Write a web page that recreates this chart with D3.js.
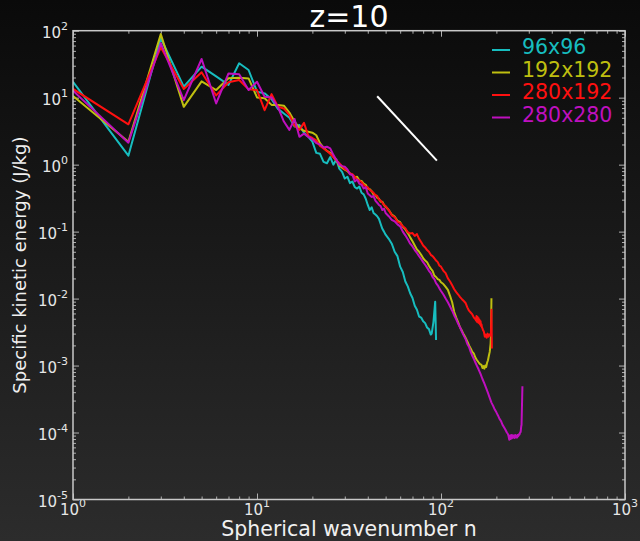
<!DOCTYPE html>
<html>
<head>
<meta charset="utf-8">
<script src="https://cdn.jsdelivr.net/npm/d3@7"></script>
<style>
  body { margin: 0; background: #000; }
  svg { display: block; font-family: "DejaVu Sans", sans-serif; }
</style>
</head>
<body>
<div id="chart"></div>
<script>
// Spectra: wavenumber n and energy (J/kg) for each run
const cyanN = [1,2,3,4,5,6,7,8,9,10,11,12,13,14,15,16,17,18,19,20,21,22,23,24,25,26,27,28,29,30,
  31,32,33,34,35,36,37,38,39,40,41,42,43,44,45,46,47,48,49,50,
  52,54,56,58,60,62,64,66,68,70,72,74,76,78,80,82,84,86,88,89,91,93,94];
const cyanE = [17.3,1.36,77,14.6,29,20.8,15.5,32.6,25.9,12.3,11.6,9.5,6.8,5.8,5.0,3.7,3.9,3.0,2.6,2.2,
  1.5,1.45,1.1,1.05,1.3,1.0,1.2,0.87,0.78,0.62,0.66,0.53,0.56,0.46,0.44,0.47,0.38,0.36,0.31,0.25,
  0.21,0.23,0.19,0.18,0.17,0.155,0.13,0.11,0.10,0.09,
  0.078,0.066,0.05,0.043,0.03,0.025,0.018,0.0152,0.012,0.0102,0.0078,0.0068,0.0054,0.0052,0.0046,0.0043,0.0037,0.0035,0.0029,
  0.003,0.0045,0.009,0.0024];

const yellowN = [1,2,3,4,5,6,7,8,9,10,11,12,13,14,15,16,17,18,19,20,21,22,23,24,25,26,27,28,29,30,
  31,32,33,34,35,36,37,38,39,40,41,42,43,44,45,46,47,48,49,50,
  52,54,56,58,60,62,64,66,68,70,72,74,76,78,80,82,84,86,88,90,92,94,96,98,100,
  103,106,109,112,115,118,121,124,127,130,133,136,139,142,145,148,151,154,157,160,163,166,
  168,170,172,174,176,178,180,182,184,186,187,188];
const yellowE = [10.6,2.2,89,7.3,17.5,13,19.5,19.9,19.4,10.1,9.8,7.8,7.8,7.6,6.0,4.4,3.5,3.2,3.1,3.0,
  2.75,2.1,1.8,1.6,1.5,1.3,1.15,0.97,0.9,
  0.84,0.8,0.74,0.7,0.64,0.66,0.58,0.57,0.52,0.5,0.44,0.43,0.4,0.36,0.35,0.32,0.31,0.28,0.28,0.25,0.235,
  0.21,0.18,0.168,0.145,0.138,0.118,0.108,0.095,0.082,0.072,0.062,0.054,0.05,0.045,0.04,0.037,0.035,0.031,0.028,0.026,
  0.022,0.021,0.0195,0.019,0.0175,
  0.0165,0.015,0.0135,0.011,0.0088,0.0063,0.0052,0.0044,0.0037,0.0033,0.0029,0.0026,0.0023,0.002,0.0018,0.0016,
  0.0015,0.0013,0.0012,0.00112,0.00105,0.00102,
  0.00092,0.00098,0.0009,0.001,0.00095,0.0011,0.0012,0.0014,0.0016,0.0021,0.003,0.0101];

const redN = [1,2,3,4,5,6,7,8,9,10,11,12,13,14,15,16,17,18,19,20,21,22,23,24,25,26,27,28,29,30,
  31,32,33,34,35,36,37,38,39,40,41,42,43,44,45,46,47,48,49,50,
  52,54,56,58,60,62,64,66,68,70,72,74,76,78,80,82,84,86,88,90,92,94,96,98,100,
  103,106,109,112,115,118,121,124,127,130,133,136,139,142,145,148,151,154,
  155,156,157,158,159,160,161,162,163,164,165,166,167,168,169,170,
  171,173,175,177,179,181,183,185,187,188,189];
const redE = [13.5,4.0,56.5,13.5,24,10.8,17,18.4,13.3,13,6.5,11.3,7.3,6.9,5.5,3.8,3.3,4.2,2.7,2.5,
  2.3,1.9,1.75,1.6,1.45,1.3,1.17,1.05,0.95,
  0.85,0.82,0.74,0.72,0.66,0.6,0.58,0.55,0.5,0.47,0.46,0.42,0.4,0.38,0.35,0.34,0.3,0.29,0.27,0.25,0.24,
  0.21,0.175,0.165,0.14,0.135,0.12,0.112,0.098,0.094,0.095,0.086,0.092,0.078,0.07,0.062,0.058,0.053,0.05,0.045,0.043,
  0.04,0.037,0.035,0.031,0.03,
  0.026,0.024,0.02,0.018,0.0158,0.0138,0.0125,0.0115,0.0105,0.0098,0.0092,0.0086,0.0074,0.0066,0.0062,0.0058,0.0052,0.0049,
  0.0047,0.0055,0.0045,0.0053,0.0044,0.0051,0.0043,0.0048,0.0041,0.0046,0.0039,0.0041,0.0037,0.0036,0.0034,0.0033,
  0.0032,0.0027,0.0029,0.0026,0.003,0.0027,0.0029,0.0028,0.0031,0.0068,0.0018];

const magentaN = [1,2,3,4,5,6,7,8,9,10,11,12,13,14,15,16,17,18,19,20,21,22,23,24,25,26,27,28,29,30,
  31,32,33,34,35,36,37,38,39,40,41,42,43,44,45,46,47,48,49,50,
  52,54,56,58,60,62,64,66,68,70,72,74,76,78,80,82,84,86,88,90,92,94,96,98,100,
  103,106,109,112,115,118,121,124,127,130,133,136,139,142,145,148,151,154,157,160,
  164,168,172,176,180,184,188,192,196,200,204,208,212,216,220,224,228,
  231,233,235,237,239,241,243,245,247,249,251,253,255,257,259,261,263,265,267,269,271,273,274,277];
const magentaE = [12.7,2.13,65,9.2,37.8,8.2,23,22.4,13,17.3,10.3,10.1,7.2,4.4,3.3,4.8,2.6,2.9,2.6,2.4,
  2.1,2.0,1.8,1.85,1.75,1.4,1.17,1.0,0.95,0.93,
  0.85,0.72,0.7,0.56,0.6,0.52,0.5,0.44,0.46,0.37,0.35,0.33,0.34,0.29,0.27,0.25,0.24,0.21,0.22,0.19,
  0.17,0.15,0.142,0.128,0.12,0.1,0.088,0.077,0.066,0.06,0.053,0.048,0.043,0.039,0.035,0.032,0.029,0.026,0.024,0.021,
  0.0195,0.017,0.0158,0.0142,0.013,
  0.0115,0.01,0.0088,0.0076,0.0066,0.0056,0.0049,0.0042,0.0037,0.0032,0.0028,0.0025,0.0021,0.0019,0.0016,0.0014,
  0.00125,0.0011,0.00098,0.00088,
  0.00075,0.00063,0.00054,0.00046,0.00039,0.00033,0.00028,0.00025,0.00022,0.0002,0.00018,0.00016,0.000148,0.00013,
  0.00012,0.00011,0.0001,
  0.000095,0.000088,0.000078,0.00009,0.00008,0.000092,0.000082,0.000091,0.000084,0.00009,0.000083,0.000092,0.000085,
  0.00009,0.000084,0.000092,0.000088,0.000094,0.000093,0.0001,0.000102,0.000125,0.00013,0.00049];

const seriesNames = ["96x96", "192x192", "280x192", "280x280"];
const seriesColors = ["#17bdbf", "#bfbf10", "#ff1010", "#bf10bf"];

// n^-3 reference slope
const slopeN = [45, 95];
const slopeE = [10.5, 1.15];

const xMajor = [1, 10, 100, 1000];
const yMajor = [1e-5, 1e-4, 1e-3, 1e-2, 1e-1, 1, 10, 100];

// Layout
const width = 640, height = 541;
const plotLeft = 73, plotRight = 625, plotTop = 30.7, plotBottom = 499.5;

const svg = d3.select("#chart")
  .append("svg")
  .attr("width", width)
  .attr("height", height);

const defs = svg.append("defs");
const grad = defs.append("linearGradient")
  .attr("id", "bg")
  .attr("x1", 0).attr("y1", 0).attr("x2", 0).attr("y2", 1);
grad.append("stop").attr("offset", 0).attr("stop-color", "#0a0a0a");
grad.append("stop").attr("offset", 1).attr("stop-color", "#2c2c2c");

svg.append("rect")
  .attr("width", width)
  .attr("height", height)
  .attr("fill", "url(#bg)");

const x = d3.scaleLog().domain([1, 1000]).range([plotLeft, plotRight]);
const y = d3.scaleLog().domain([1e-5, 100]).range([plotBottom, plotTop]);

const isMajor = v => Math.abs(Math.log10(v) - Math.round(Math.log10(v))) < 1e-9;
const xMinor = x.ticks().filter(v => !isMajor(v));
const yMinor = y.ticks().filter(v => !isMajor(v));

// Inward ticks on all four sides
function ticks(axis, values, size, transform) {
  svg.append("g")
    .attr("transform", transform)
    .call(axis.tickValues(values).tickSizeInner(-size).tickSizeOuter(0).tickFormat(""))
    .call(g => g.select(".domain").remove())
    .call(g => g.selectAll("line").attr("stroke", "#b0b0b0").attr("stroke-width", 1));
}
ticks(d3.axisBottom(x), xMajor, 6, `translate(0,${plotBottom})`);
ticks(d3.axisBottom(x), xMinor, 3, `translate(0,${plotBottom})`);
ticks(d3.axisTop(x), xMajor, 6, `translate(0,${plotTop})`);
ticks(d3.axisTop(x), xMinor, 3, `translate(0,${plotTop})`);
ticks(d3.axisLeft(y), yMajor, 6, `translate(${plotLeft},0)`);
ticks(d3.axisLeft(y), yMinor, 3, `translate(${plotLeft},0)`);
ticks(d3.axisRight(y), yMajor, 6, `translate(${plotRight},0)`);
ticks(d3.axisRight(y), yMinor, 3, `translate(${plotRight},0)`);

function powText(sel) {
  sel.append("tspan").text("10");
  sel.append("tspan")
    .attr("dy", -8)
    .attr("font-size", 11)
    .text(d => Math.round(Math.log10(d)));
}

svg.append("g").selectAll("text")
  .data(xMajor)
  .join("text")
  .attr("x", d => x(d))
  .attr("y", plotBottom + 15)
  .attr("text-anchor", "middle")
  .attr("fill", "#e6e6e6")
  .attr("font-size", 15)
  .call(powText);

svg.append("g").selectAll("text")
  .data(yMajor)
  .join("text")
  .attr("x", plotLeft - 5)
  .attr("y", d => y(d) + 7)
  .attr("text-anchor", "end")
  .attr("fill", "#e6e6e6")
  .attr("font-size", 15)
  .call(powText);

// Spectra
const series = [
  { n: cyanN, e: cyanE },
  { n: yellowN, e: yellowE },
  { n: redN, e: redE },
  { n: magentaN, e: magentaE }
];

const line = d3.line()
  .x(d => x(d[0]))
  .y(d => y(d[1]));

defs.append("clipPath")
  .attr("id", "plot")
  .append("rect")
  .attr("x", plotLeft).attr("y", plotTop)
  .attr("width", plotRight - plotLeft).attr("height", plotBottom - plotTop);

const plot = svg.append("g").attr("clip-path", "url(#plot)");

plot.selectAll("path.spec")
  .data(series)
  .join("path")
  .attr("class", "spec")
  .attr("d", s => line(d3.zip(s.n, s.e)))
  .attr("fill", "none")
  .attr("stroke", (s, i) => seriesColors[i])
  .attr("stroke-width", 2)
  .attr("stroke-linejoin", "round");

plot.append("path")
  .attr("d", line(d3.zip(slopeN, slopeE)))
  .attr("stroke", "#ffffff")
  .attr("stroke-width", 2);

// Frame
svg.append("rect")
  .attr("x", plotLeft).attr("y", plotTop)
  .attr("width", plotRight - plotLeft).attr("height", plotBottom - plotTop)
  .attr("fill", "none")
  .attr("stroke", "#c8c8c8")
  .attr("stroke-width", 1.5);

// Legend
const legend = svg.append("g").selectAll("g")
  .data(seriesNames)
  .join("g")
  .attr("transform", (d, i) => `translate(492,${54 + i * 22.5})`);

legend.append("line")
  .attr("x1", 0).attr("x2", 18)
  .attr("y1", -4).attr("y2", -4)
  .attr("stroke", (d, i) => seriesColors[i])
  .attr("stroke-width", 2);

legend.append("text")
  .attr("x", 30)
  .attr("fill", (d, i) => seriesColors[i])
  .attr("font-size", 20.5)
  .text(d => d);

// Titles
svg.append("text")
  .attr("x", (plotLeft + plotRight) / 2)
  .attr("y", 27)
  .attr("text-anchor", "middle")
  .attr("fill", "#ffffff")
  .attr("font-size", 30)
  .text("z=10");

svg.append("text")
  .attr("x", (plotLeft + plotRight) / 2)
  .attr("y", 536)
  .attr("text-anchor", "middle")
  .attr("fill", "#f0f0f0")
  .attr("font-size", 20.5)
  .text("Spherical wavenumber n");

svg.append("text")
  .attr("transform", `translate(26,${(plotTop + plotBottom) / 2}) rotate(-90)`)
  .attr("text-anchor", "middle")
  .attr("fill", "#f0f0f0")
  .attr("font-size", 18)
  .text("Specific kinetic energy (J/kg)");
</script>
</body>
</html>
